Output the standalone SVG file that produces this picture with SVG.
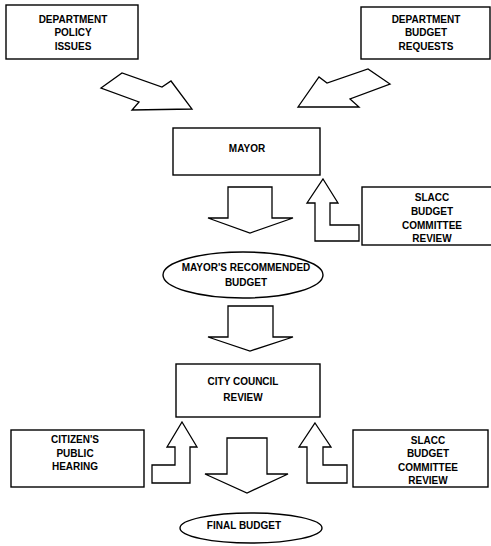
<svg xmlns="http://www.w3.org/2000/svg" width="491" height="546" viewBox="0 0 491 546">
<style>
.box{fill:#fff;stroke:#000;stroke-width:1.4}
.arr{fill:#fff;stroke:#000;stroke-width:1.3;stroke-linejoin:miter}
text{font-family:"Liberation Sans",Arial,sans-serif;font-weight:bold;font-size:10px;text-anchor:middle;fill:#000}
</style>
<rect width="491" height="546" fill="#fff"/>
<g id="connectors">
<polygon class="arr" points="101,88 122,73 162,87 171,81 192,109 132,110 139,102"/>
<polygon class="arr" points="298,107 319,77 327,83 368,69 390,84 350,99 359,107"/>
<polygon class="arr" points="228,187 272,187 272,218 293,218 250,233 208,218 228,218"/>
<polygon class="arr" points="323,179 338,203 330,203 330,225 359,225 359,241 315,241 315,203 307,203"/>
<polygon class="arr" points="228,306 273,306 273,337 293,337 250,351 208,337 228,337"/>
<polygon class="arr" points="227,438 267,438 267,474 288,474 247,493 205,474 227,474"/>
<polygon class="arr" points="182,422 197,447 190,447 190,483 152,483 152,465 175,465 175,447 167,447"/>
<polygon class="arr" points="315,423 331,447 323,447 323,465 347,465 347,483 307,483 307,447 299,447"/>
</g>
<g id="policy">
<rect class="box" x="6" y="5" width="132" height="54"/>
<text x="73" y="23">DEPARTMENT</text>
<text x="73" y="36">POLICY</text>
<text x="73" y="50">ISSUES</text>
</g>
<g id="requests">
<rect class="box" x="361" y="7" width="129" height="52"/>
<text x="426" y="23">DEPARTMENT</text>
<text x="426" y="36">BUDGET</text>
<text x="426" y="50">REQUESTS</text>
</g>
<g id="mayor">
<rect class="box" x="173" y="128" width="147" height="47"/>
<text x="247" y="152">MAYOR</text>
</g>
<g id="slacc1">
<rect class="box" x="362" y="187" width="135" height="58"/>
<text x="432" y="201">SLACC</text>
<text x="432" y="215">BUDGET</text>
<text x="432" y="229">COMMITTEE</text>
<text x="432" y="242">REVIEW</text>
</g>
<g id="recommended">
<ellipse class="box" cx="243" cy="275" rx="80" ry="23"/>
<text x="246" y="271">MAYOR'S RECOMMENDED</text>
<text x="246" y="286">BUDGET</text>
</g>
<g id="council">
<rect class="box" x="176" y="364" width="144" height="53"/>
<text x="243" y="385">CITY COUNCIL</text>
<text x="243" y="401">REVIEW</text>
</g>
<g id="citizens">
<rect class="box" x="11" y="430" width="133" height="57"/>
<text x="75" y="443">CITIZEN'S</text>
<text x="75" y="457">PUBLIC</text>
<text x="75" y="470">HEARING</text>
</g>
<g id="slacc2">
<rect class="box" x="353" y="430" width="135" height="57"/>
<text x="428" y="444">SLACC</text>
<text x="428" y="457">BUDGET</text>
<text x="428" y="471">COMMITTEE</text>
<text x="428" y="484">REVIEW</text>
</g>
<g id="final">
<ellipse class="box" cx="251" cy="528" rx="71" ry="15"/>
<text x="244" y="529">FINAL BUDGET</text>
</g>
</svg>
